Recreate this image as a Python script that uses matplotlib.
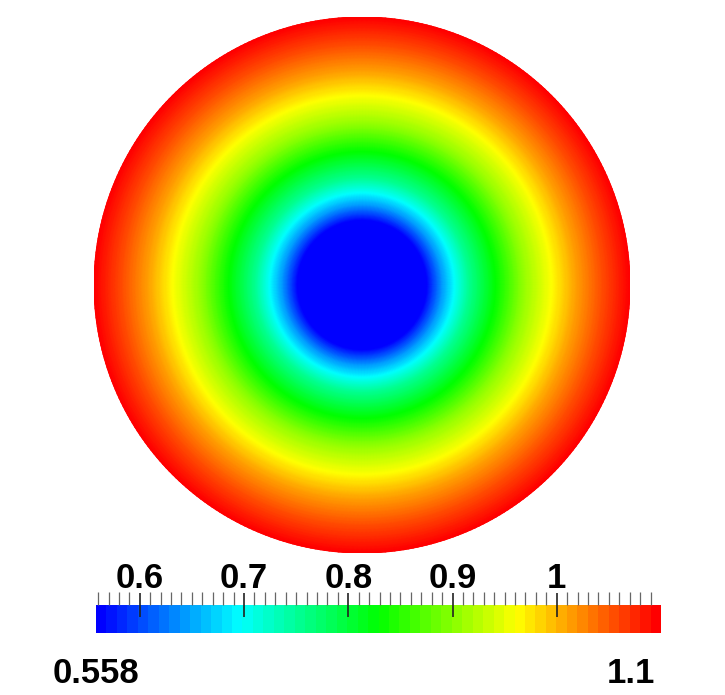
import numpy as np
import matplotlib
matplotlib.use("Agg")
import matplotlib.pyplot as plt
from matplotlib.colors import LinearSegmentedColormap, Normalize
from matplotlib.cm import ScalarMappable
from matplotlib.ticker import FixedLocator

# ---- data: radial profile of the field (normalised radius -> value) ----
radius_norm = [0.0, 0.24, 0.30, 0.35, 0.40, 0.50, 0.60, 0.71, 0.80, 0.90, 1.00]
field_value = [0.558, 0.558, 0.642, 0.700, 0.752, 0.830, 0.906, 0.965, 1.015, 1.060, 1.100]
value_min = 0.558
value_max = 1.1
major_ticks = [0.6, 0.7, 0.8, 0.9, 1.0]
major_labels = ["0.6", "0.7", "0.8", "0.9", "1"]
minor_start, minor_stop, minor_step = 0.56, 1.09, 0.01
min_label = "0.558"
max_label = "1.1"

cmap_colors = ["#0000ff", "#00ffff", "#00ff00", "#ffff00", "#ff0000"]
cmap = LinearSegmentedColormap.from_list("bluered", cmap_colors, N=256)
cmap.set_under("#0000ff")
cmap.set_over("#ff0000")
norm = Normalize(vmin=value_min, vmax=value_max)

W, H = 725, 695
fig = plt.figure(figsize=(W / 100, H / 100), dpi=100)
fig.patch.set_facecolor("white")

# ---- disk ----
ax = fig.add_axes([94 / W, (H - 553) / H, 536 / W, 536 / H])
r = np.linspace(0, 1, 300)
th = np.linspace(0, 2 * np.pi, 361)
R, TH = np.meshgrid(r, th)
X = R * np.cos(TH)
Y = R * np.sin(TH)
C = np.interp(R, radius_norm, field_value)
ax.pcolormesh(X, Y, C, cmap=cmap, norm=norm, shading="gouraud", antialiased=True)
ax.set_xlim(-1, 1)
ax.set_ylim(-1, 1)
ax.set_aspect("equal")
ax.axis("off")

# ---- colorbar ----
cax = fig.add_axes([96 / W, (H - 633) / H, 565 / W, 28 / H])
sm = ScalarMappable(norm=norm, cmap=cmap.resampled(54))
cb = fig.colorbar(sm, cax=cax, orientation="horizontal")
cb.outline.set_visible(False)
cax.xaxis.set_ticks_position("top")
cax.xaxis.set_label_position("top")
cb.set_ticks(major_ticks)
cb.set_ticklabels(major_labels)
n_minor = int(round((minor_stop - minor_start) / minor_step)) + 1
minor_vals = [round(minor_start + i * minor_step, 2) for i in range(n_minor)]
minor_vals = [v for v in minor_vals if all(abs(v - m) > 1e-6 for m in major_ticks)]
cax.xaxis.set_minor_locator(FixedLocator(minor_vals))
cax.tick_params(axis="x", which="major", direction="inout", length=17, width=1.2,
                color="#222222", pad=-1.5, labelsize=25)
cax.tick_params(axis="x", which="minor", direction="out", length=9.5, width=0.9,
                color="#666666")
for lab in cax.get_xticklabels():
    lab.set_fontfamily("Liberation Sans")
    lab.set_fontweight("bold")

fig.text(96 / W, (H - 683) / H, min_label, ha="center", va="baseline",
         fontsize=25, fontweight="bold", family="Liberation Sans")
fig.text(655 / W, (H - 683) / H, max_label, ha="right", va="baseline",
         fontsize=25, fontweight="bold", family="Liberation Sans")

fig.savefig("out.png", dpi=100, facecolor="white")
